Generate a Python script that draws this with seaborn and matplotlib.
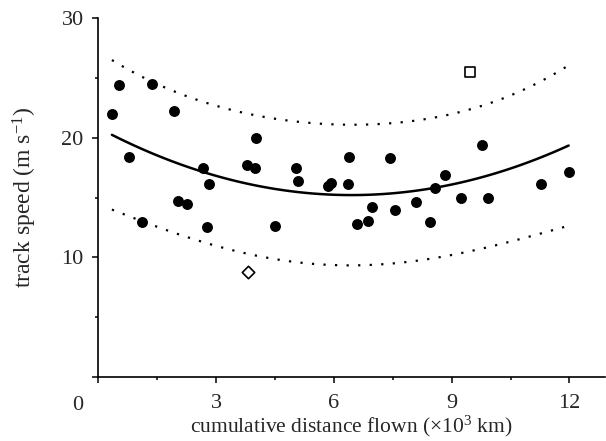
import numpy as np
import pandas as pd
import matplotlib
matplotlib.use('Agg')
import matplotlib.pyplot as plt
import seaborn as sns

# filled points: cumulative distance (x10^3 km) and track speed (m/s)
dist = [0.35, 0.53, 0.79, 1.12, 1.37, 1.94, 2.04, 2.25, 2.66, 2.78, 2.81,
        3.80, 3.99, 4.03, 4.49, 5.03, 5.10, 5.86, 5.92, 6.37, 6.39, 6.58,
        6.87, 6.96, 7.44, 7.55, 8.10, 8.45, 8.57, 8.82, 9.25, 9.78, 9.93,
        11.28, 11.98]
speed = [21.97, 24.4, 18.4, 12.95, 24.45, 22.25, 14.73, 14.5, 17.5, 12.5, 16.1,
         17.69, 17.43, 19.94, 12.59, 17.49, 16.4, 15.96, 16.18, 16.12, 18.4, 12.78,
         13.0, 14.23, 18.27, 14.0, 14.65, 12.98, 15.82, 16.88, 15.0, 19.38, 14.98,
         16.12, 17.15]

# open symbols
square_x, square_y = [9.47], [25.5]
diamond_x, diamond_y = [3.81], [8.8]

df = pd.DataFrame({'dist': dist, 'speed': speed})
df_all = pd.DataFrame({'dist': dist + square_x + diamond_x,
                       'speed': speed + square_y + diamond_y})

sns.set_style('ticks')
plt.rcParams['font.family'] = ['Liberation Serif', 'DejaVu Serif']
plt.rcParams['mathtext.fontset'] = 'custom'
plt.rcParams['mathtext.rm'] = 'Liberation Serif'
plt.rcParams['mathtext.it'] = 'Liberation Serif:italic'

fig = plt.figure(figsize=(6.06, 4.41), dpi=100)
ax = fig.add_axes([0.162, 0.145, 0.836, 0.814])

# quadratic fit on all birds, band from scatter of the filled points
x = df_all['dist'].values
y = df_all['speed'].values
X = np.column_stack([np.ones_like(x), x, x**2])
beta, *_ = np.linalg.lstsq(X, y, rcond=None)
xf = df['dist'].values
Xf = np.column_stack([np.ones_like(xf), xf, xf**2])
resid = df['speed'].values - Xf @ beta
s2 = resid @ resid / (len(xf) - 3)
xx = np.linspace(min(dist), max(dist), 200)
XX = np.column_stack([np.ones_like(xx), xx, xx**2])
cov = np.linalg.inv(X.T @ X)
se = np.sqrt(s2 * (1 + np.einsum('ij,jk,ik->i', XX, cov, XX)))
fit = XX @ beta
t = 2.03
ax.plot(xx, fit + t * se, color='black', lw=1.6, ls=(0, (1, 4.2)))
ax.plot(xx, fit - t * se, color='black', lw=1.6, ls=(0, (1, 4.2)))

sns.regplot(data=df_all, x='dist', y='speed', order=2, ci=None, scatter=False,
            line_kws={'color': 'black', 'lw': 1.8}, ax=ax)
sns.scatterplot(data=df, x='dist', y='speed', color='black', s=62,
                edgecolor='black', linewidth=0, ax=ax)
ax.scatter(square_x, square_y, marker='s', s=50, facecolor='white',
           edgecolor='black', linewidth=1.2, zorder=3)
ax.scatter(diamond_x, diamond_y, marker='D', s=40, facecolor='white',
           edgecolor='black', linewidth=1.2, zorder=3)

ax.set_xlim(0, 12.9)
ax.set_ylim(0, 30)
ax.set_xticks([0, 3, 6, 9, 12])
ax.set_xticklabels(['', '3', '6', '9', '12'])
ax.set_xticks([1.5, 4.5, 7.5, 10.5], minor=True)
ax.set_yticks([0, 10, 20, 30])
ax.set_yticklabels(['', '10', '20', '30'])
ax.set_yticks([5, 15, 25], minor=True)
ax.tick_params(which='major', length=4.5, width=1.1, labelsize=16, color='black')
ax.tick_params(which='minor', length=2.5, width=1.1, color='black')
ax.tick_params(axis='x', pad=8)
ax.tick_params(axis='y', pad=6)
ax.text(-0.53, -0.078, '0', transform=ax.get_xaxis_transform(),
        ha='center', va='center', fontsize=16)

for side in ['top', 'right']:
    ax.spines[side].set_visible(False)
for side in ['left', 'bottom']:
    ax.spines[side].set_linewidth(1.2)
    ax.spines[side].set_color('black')

ax.set_xlabel(r'cumulative distance flown ($\times$10$^3$ km)', fontsize=15.5, labelpad=0)
ax.set_ylabel(r'track speed (m s$^{-1}$)', fontsize=17, labelpad=16)

fig.savefig('out.png', dpi=100)
